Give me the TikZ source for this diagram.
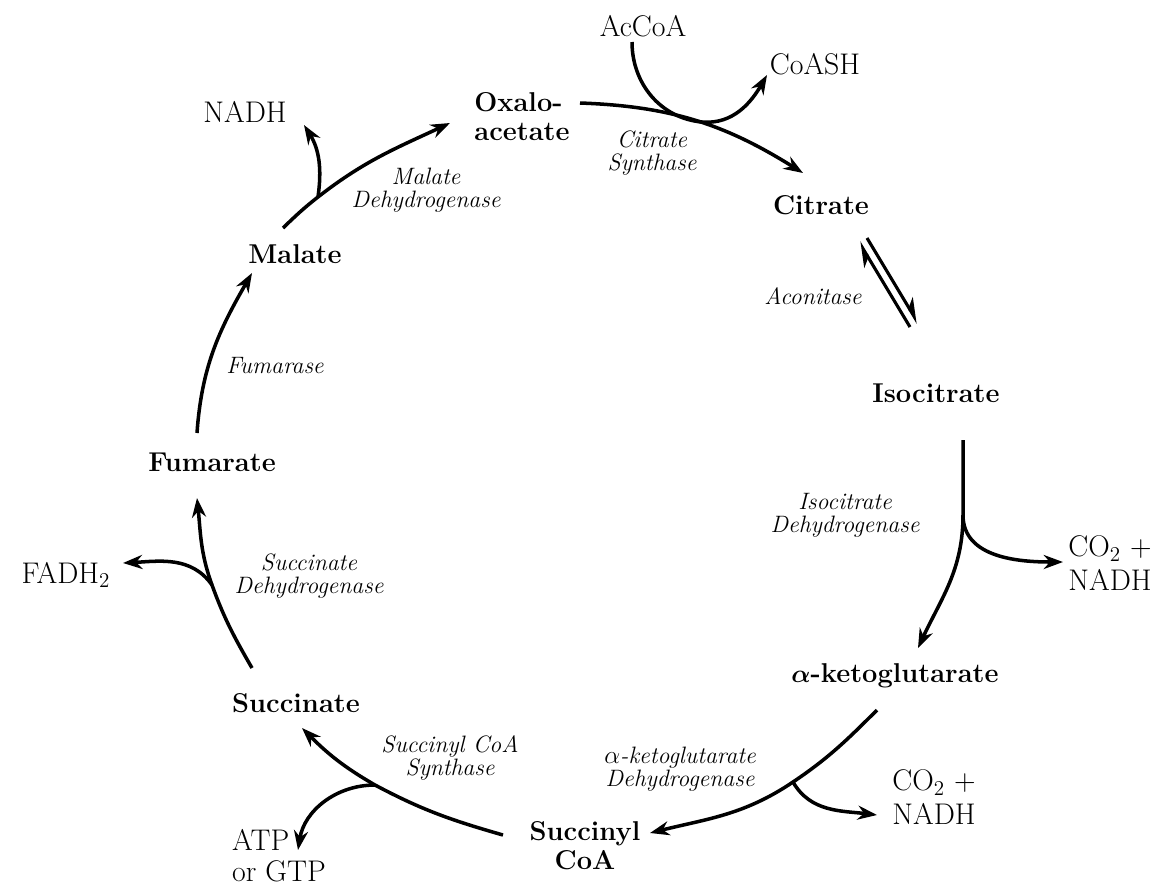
\documentclass[tikz,border=0pt]{standalone}
\usetikzlibrary{arrows.meta,positioning}

\begin{document}
\begin{tikzpicture}[
        x=0.02cm, y=0.02cm,
        molecula/.style={
            font=\fontsize{15.5}{16.5}\selectfont\bfseries,
            align=center,
            inner sep=1pt
        },
        produto/.style={
            font=\fontsize{17}{19}\selectfont,
            align=center,
            inner sep=1pt
        },
        enzima/.style={
            font=\fontsize{13.5}{13}\selectfont\itshape,
            align=center,
            inner sep=1pt
        },
        arrow/.style={-{Stealth[length=11pt,width=8pt]}, line width=2pt},
        meia/.style={-{Stealth[harpoon,length=12pt,width=10pt]}, line width=1.8pt}
    ]
    \useasboundingbox (0,0) rectangle (1173,-887);

    % intermediarios do ciclo
    \node[molecula, align=left] (oxalo) at (522,-117) {Oxalo-\\acetate};
    \node[molecula] (citrate) at (821,-205) {Citrate};
    \node[molecula] (isocitrate) at (936,-393) {Isocitrate};
    \node[molecula] (akg) at (895,-676) {{\boldmath$\alpha$}-ketoglutarate};
    \node[molecula] (succoa) at (585,-846) {Succinyl\\CoA};
    \node[molecula] (succinate) at (296,-703) {Succinate};
    \node[molecula] (fumarate) at (212,-462) {Fumarate};
    \node[molecula] (malate) at (295,-254) {Malate};

    % entradas e saidas
    \node[produto] (accoa) at (643,-26) {AcCoA};
    \node[produto] (coash) at (815,-64) {CoASH};
    \node[produto] (co2a) at (1110,-563) {CO$_2$ +\\NADH};
    \node[produto] (co2b) at (934,-797) {CO$_2$ +\\NADH};
    \node[produto, align=left, font=\fontsize{17}{17.5}\selectfont] (atp) at (279,-856) {ATP\\or GTP};
    \node[produto] (fadh) at (66,-575) {FADH$_2$};
    \node[produto] (nadh) at (245,-112) {NADH};

    % enzimas
    \node[enzima] (ecs) at (652,-153) {Citrate\\Synthase};
    \node[enzima] (eacon) at (813,-296) {Aconitase};
    \node[enzima] (eidh) at (845,-515) {Isocitrate\\Dehydrogenase};
    \node[enzima] (ekgdh) at (680,-769) {$\alpha$-ketoglutarate\\Dehydrogenase};
    \node[enzima] (escs) at (450,-758) {Succinyl CoA\\Synthase};
    \node[enzima] (esdh) at (309,-576) {Succinate\\Dehydrogenase};
    \node[enzima] (efum) at (275,-366) {Fumarase};
    \node[enzima] (emdh) at (426,-190) {Malate\\Dehydrogenase};

    % pontos onde os ramos saem
    \coordinate (ja) at (702,-122);
    \coordinate (jb) at (963,-515);
    \coordinate (jc) at (793,-782);
    \coordinate (jd) at (375,-785);
    \coordinate (je) at (212,-585);
    \coordinate (jg) at (318,-197);

    \draw[arrow] ([shift={(58,14)}]oxalo.center) to[out=-2,in=148] ([shift={(-18,32)}]citrate.center);
    \draw[arrow] ([shift={(-11,-16)}]accoa.center) to[out=-90,in=175] (ja) to[out=-5,in=-120] ([shift={(-48,-11)}]coash.center);

    \draw[meia] ([shift={(-26,66)}]isocitrate.center) -- ([shift={(38,-37)}]citrate.center);
    \draw[meia] ([shift={(46,-33)}]citrate.center) -- ([shift={(-18,70)}]isocitrate.center);

    \draw[arrow] ([shift={(27,-47)}]isocitrate.center) -- (jb) to[out=-90,in=65] ([shift={(23,28)}]akg.center);
    \draw[arrow] (jb) to[out=-90,in=180] ([shift={(-47,1)}]co2a.center);

    \draw[arrow] ([shift={(-18,-34)}]akg.center) to[out=-135,in=34] (jc) to[out=-146,in=14] ([shift={(65,13)}]succoa.center);
    \draw[arrow] (jc) to[out=-60,in=173] ([shift={(-57,-18)}]co2b.center);

    \draw[arrow] ([shift={(-82,11)}]succoa.center) to[out=164,in=-28] (jd) to[out=150,in=-45] ([shift={(6,-25)}]succinate.center);
    \draw[arrow] (jd) to[out=180,in=81] ([shift={(19,6)}]atp.center);

    \draw[arrow] ([shift={(-44,35)}]succinate.center) to[out=120,in=-70] (je) to[out=110,in=-84] ([shift={(-15,-36)}]fumarate.center);
    \draw[arrow] (je) to[out=125,in=3] ([shift={(57,12)}]fadh.center);

    \draw[arrow] ([shift={(-15,29)}]fumarate.center) to[out=86,in=-120] ([shift={(-43,-19)}]malate.center);

    \draw[arrow] ([shift={(-12,26)}]malate.center) to[out=44,in=-142] (jg) to[out=38,in=-155] ([shift={(-72,-6)}]oxalo.center);
    \draw[arrow] (jg) to[out=82,in=-58] ([shift={(59,-13)}]nadh.center);

\end{tikzpicture}
\end{document}
